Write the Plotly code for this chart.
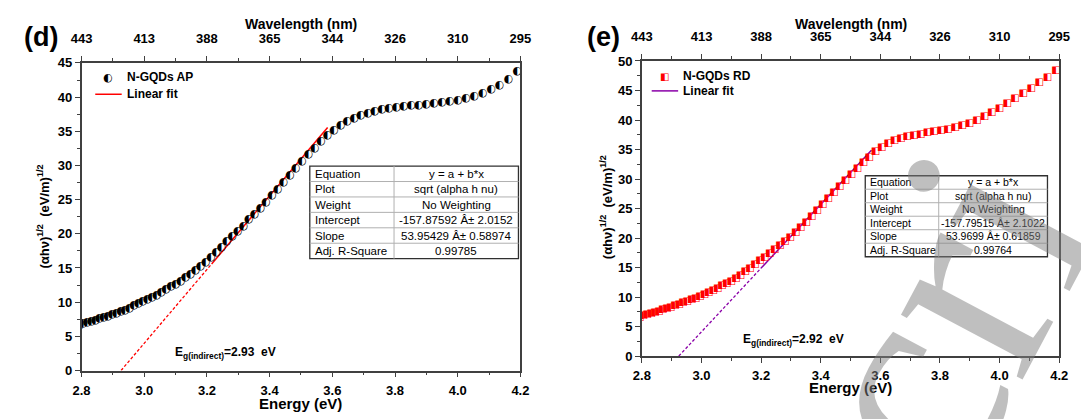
import plotly.graph_objects as go

# ---------------- data ----------------
energy = [2.793, 2.805, 2.818, 2.831, 2.844, 2.857, 2.870, 2.884, 2.897, 2.911,
          2.925, 2.938, 2.952, 2.967, 2.981, 2.995, 3.010, 3.024, 3.039, 3.054,
          3.069, 3.085, 3.100, 3.116, 3.131, 3.147, 3.163, 3.179, 3.196, 3.212,
          3.229, 3.246, 3.263, 3.280, 3.298, 3.316, 3.333, 3.351, 3.370, 3.388,
          3.407, 3.425, 3.444, 3.464, 3.483, 3.503, 3.523, 3.543, 3.563, 3.584,
          3.605, 3.626, 3.647, 3.669, 3.690, 3.713, 3.735, 3.758, 3.780, 3.804,
          3.827, 3.851, 3.875, 3.899, 3.924, 3.949, 3.974, 4.000, 4.026, 4.052,
          4.079, 4.106, 4.133, 4.161, 4.189]

y_ap = [7.1, 7.3, 7.5, 7.7, 7.8, 8.0, 8.2, 8.4, 8.6, 8.8,
        9.1, 9.3, 9.6, 9.9, 10.2, 10.5, 10.8, 11.2, 11.5, 11.9,
        12.3, 12.7, 13.1, 13.5, 14.0, 14.5, 15.1, 15.7, 16.3, 17.0,
        17.7, 18.5, 19.3, 20.0, 20.8, 21.6, 22.5, 23.3, 24.2, 25.1,
        26.0, 27.0, 28.0, 29.0, 30.0, 31.0, 32.0, 33.0, 33.9, 34.8,
        35.6, 36.3, 36.9, 37.4, 37.8, 38.1, 38.4, 38.6, 38.8, 39.0,
        39.1, 39.2, 39.3, 39.4, 39.5, 39.7, 39.8, 40.0, 40.3, 40.6,
        41.0, 41.5, 42.2, 43.1, 44.2]

y_rd = [7.1, 7.3, 7.5, 7.7, 7.9, 8.1, 8.3, 8.5, 8.7, 9.0,
        9.2, 9.5, 9.7, 10.0, 10.3, 10.6, 10.9, 11.3, 11.6, 12.0,
        12.4, 12.8, 13.2, 13.7, 14.2, 14.8, 15.4, 16.0, 16.6, 17.2,
        17.9, 18.5, 19.2, 19.9, 20.6, 21.4, 22.3, 23.2, 24.2, 25.2,
        26.2, 27.2, 28.2, 29.3, 30.3, 31.3, 32.3, 33.3, 34.2, 35.1,
        35.9, 36.5, 37.0, 37.4, 37.7, 37.9, 38.1, 38.3, 38.5, 38.7,
        38.9, 39.2, 39.5, 39.9, 40.4, 41.0, 41.7, 42.5, 43.3, 44.1,
        45.0, 45.9, 46.8, 47.7, 48.8]

energy_ticks = [2.8, 3.0, 3.2, 3.4, 3.6, 3.8, 4.0, 4.2]
wavelength_labels = ["443", "413", "388", "365", "344", "326", "310", "295"]

intercept_ap, slope_ap = -157.87592, 53.95429
intercept_rd, slope_rd = -157.79515, 53.9699
fit_range_ap = [3.215, 3.585]
fit_range_rd = [3.20, 3.57]

table_labels = ["Equation", "Plot", "Weight", "Intercept", "Slope", "Adj. R-Square"]
table_ap = ["y = a + b*x", "sqrt (alpha h nu)", "No Weighting",
            "-157.87592 Â± 2.0152", "53.95429 Â± 0.58974", "0.99785"]
table_rd = ["y = a + b*x", "sqrt (alpha h nu)", "No Weighting",
            "-157.79515 Â± 2.1022", "53.9699 Â± 0.61859", "0.99764"]

# ---------------- geometry helpers ----------------
W, H = 1081, 419
def px(x):
    return x / W
def py(y):
    return 1 - y / H

AX = "#404040"
FONT = "Liberation Sans, Arial, sans-serif"
BOLD = dict(family=FONT, size=13, color="black", weight="bold")
PURPLE = "#8a00a8"

dom_xd = [px(72), px(520)]
dom_yd = [py(377), py(58)]
dom_xe = [px(644), px(1070)]
dom_ye = [py(362), py(56)]

# glyph centring correction (pixels) for the half-filled symbol glyphs
GLYPH_SHIFT_PX = 3.0
shift_d = GLYPH_SHIFT_PX * 45 / (377 - 58)
shift_e = GLYPH_SHIFT_PX * 50 / (362 - 56)

fig = go.Figure()

# data markers: half-filled symbols
fig.add_trace(go.Scatter(x=energy, y=y_ap, mode="text", text=["◐"] * len(energy),
                         textfont=dict(family="DejaVu Sans", size=11, color="black"),
                         textposition="middle center", xaxis="x", yaxis="y3",
                         showlegend=False, hoverinfo="skip"))
fig.add_trace(go.Scatter(x=energy, y=y_rd, mode="text", text=["◧"] * len(energy),
                         textfont=dict(family="DejaVu Sans", size=10, color="#ff0000"),
                         textposition="middle center", xaxis="x2", yaxis="y4",
                         showlegend=False, hoverinfo="skip"))

# linear fits
def fit_traces(a, b, rng, color, xa, ya):
    x0 = -a / b
    xs = [x0, rng[0]]
    fig.add_trace(go.Scatter(x=xs, y=[a + b * v for v in xs], mode="lines",
                             line=dict(color=color, width=1.3, dash="3px,2px"),
                             xaxis=xa, yaxis=ya, showlegend=False, hoverinfo="skip"))
    fig.add_trace(go.Scatter(x=rng, y=[a + b * v for v in rng], mode="lines",
                             line=dict(color=color, width=1.5),
                             xaxis=xa, yaxis=ya, showlegend=False, hoverinfo="skip"))

fit_traces(intercept_ap, slope_ap, fit_range_ap, "#ff0000", "x", "y")
fit_traces(intercept_rd, slope_rd, fit_range_rd, PURPLE, "x2", "y2")

# invisible traces for the top wavelength axes
fig.add_trace(go.Scatter(x=energy, y=y_ap, mode="markers", marker=dict(opacity=0),
                         xaxis="x3", yaxis="y", showlegend=False, hoverinfo="skip"))
fig.add_trace(go.Scatter(x=energy, y=y_rd, mode="markers", marker=dict(opacity=0),
                         xaxis="x4", yaxis="y2", showlegend=False, hoverinfo="skip"))

def xbottom(domain, anchor):
    return dict(domain=domain, anchor=anchor, range=[2.8, 4.2], showline=True,
                linecolor=AX, linewidth=1.5, ticks="outside", ticklen=5, tickwidth=1.2,
                tickcolor=AX, tickmode="array", tickvals=energy_ticks,
                ticktext=[f"{v:.1f}" for v in energy_ticks], tickfont=BOLD,
                ticklabelstandoff=2,
                minor=dict(tickmode="linear", tick0=2.8, dtick=0.1, ticks="outside",
                           ticklen=3, tickwidth=1, tickcolor=AX),
                showgrid=False, zeroline=False, fixedrange=True)

def xtop(domain, anchor, over):
    d = xbottom(domain, anchor)
    d.update(overlaying=over, side="top", ticktext=wavelength_labels, ticklabelstandoff=8)
    return d

def yleft(domain, anchor, top):
    return dict(domain=domain, anchor=anchor, range=[0, top], showline=True, mirror=True,
                linecolor=AX, linewidth=1.5, ticks="outside", ticklen=5, tickwidth=1.2,
                tickcolor=AX, dtick=5, tick0=0, tickfont=BOLD,
                minor=dict(dtick=2.5, ticks="outside", ticklen=3, tickwidth=1, tickcolor=AX),
                showgrid=False, zeroline=False, fixedrange=True)

def yhidden(over, anchor, top, shift):
    return dict(overlaying=over, anchor=anchor, range=[shift, top + shift], visible=False,
                fixedrange=True, showgrid=False, zeroline=False)

fig.update_layout(
    width=W, height=H, margin=dict(l=0, r=0, t=0, b=0),
    paper_bgcolor="white", plot_bgcolor="white", showlegend=False,
    xaxis=xbottom(dom_xd, "y"), yaxis=yleft(dom_yd, "x", 45),
    xaxis2=xbottom(dom_xe, "y2"), yaxis2=yleft(dom_ye, "x2", 50),
    xaxis3=xtop(dom_xd, "y", "x"), xaxis4=xtop(dom_xe, "y2", "x2"),
    yaxis3=yhidden("y", "x", 45, shift_d), yaxis4=yhidden("y2", "x2", 50, shift_e),
)

ann = []
shapes = []
def text(x, y, s, size=13, bold=True, xanchor="center", angle=0, color="black", family=FONT):
    ann.append(dict(x=px(x), y=py(y), xref="paper", yref="paper", text=s, showarrow=False,
                    xanchor=xanchor, yanchor="middle", textangle=angle,
                    font=dict(family=family, size=size, color=color,
                              weight="bold" if bold else "normal")))

# panel labels and titles
text(31, 31, "(d)", size=27)
text(605, 31, "(e)", size=27)
text(296, 18, "Wavelength (nm)", size=14)
text(857, 18, "Wavelength (nm)", size=14)
text(296, 411, "Energy (eV)", size=15)
text(857, 395, "Energy (eV)", size=15)
ylab = "(αhν)<sup>1/2</sup>  (eV/m)<sup>1/2</sup>"
text(33, 217, ylab, size=13, angle=-90)
text(607, 208, ylab, size=13, angle=-90)
text(165, 359, "E<sub>g(indirect)</sub>=2.93  eV", size=12, xanchor="left")
text(745, 345, "E<sub>g(indirect)</sub>=2.92  eV", size=12, xanchor="left")

# legends
text(99, 73, "◐", size=11, bold=False, family="DejaVu Sans")
text(116, 73, "N-GQDs AP", size=12, xanchor="left")
text(116, 90, "Linear fit", size=12, xanchor="left")
shapes.append(dict(type="line", xref="paper", yref="paper", x0=px(86), x1=px(113),
                   y0=py(90.5), y1=py(90.5), line=dict(color="#ff0000", width=1.5)))
text(667, 72, "◧", size=10, bold=False, color="#ff0000", family="DejaVu Sans")
text(684, 72, "N-GQDs RD", size=12, xanchor="left")
text(684, 87, "Linear fit", size=12, xanchor="left")
shapes.append(dict(type="line", xref="paper", yref="paper", x0=px(654), x1=px(681),
                   y0=py(87), y1=py(87), line=dict(color=PURPLE, width=1.5)))

# tables
def table(x0, x1, xd, y0, y1, values, size):
    n = len(table_labels)
    rh = (y1 - y0) / n
    shapes.append(dict(type="rect", xref="paper", yref="paper", x0=px(x0), x1=px(x1),
                       y0=py(y1), y1=py(y0), fillcolor="white",
                       line=dict(color="#303030", width=1.3)))
    for i in range(1, n):
        yy = y0 + i * rh
        shapes.append(dict(type="line", xref="paper", yref="paper", x0=px(x0), x1=px(x1),
                           y0=py(yy), y1=py(yy), line=dict(color="#b0b0b0", width=1)))
    shapes.append(dict(type="line", xref="paper", yref="paper", x0=px(xd), x1=px(xd),
                       y0=py(y0), y1=py(y1), line=dict(color="#b0b0b0", width=1)))
    for i, (lab, val) in enumerate(zip(table_labels, values)):
        yc = y0 + (i + 0.5) * rh
        text(x0 + 3, yc, lab, size=size, bold=False, xanchor="left")
        text((xd + x1) / 2, yc, val, size=size, bold=False)

table(305, 518, 391, 165, 261, table_ap, 11.5)
table(872, 1058, 947, 175, 259, table_rd, 10.5)

# watermark fragment
ann.append(dict(x=px(950), y=py(320), xref="paper", yref="paper", text="cri",
                showarrow=False, textangle=-62, xanchor="center", yanchor="middle",
                font=dict(family="Liberation Serif, serif", size=300,
                          color="rgba(128,128,128,0.5)")))

fig.update_layout(annotations=ann, shapes=shapes)
fig.write_html("out.html")
